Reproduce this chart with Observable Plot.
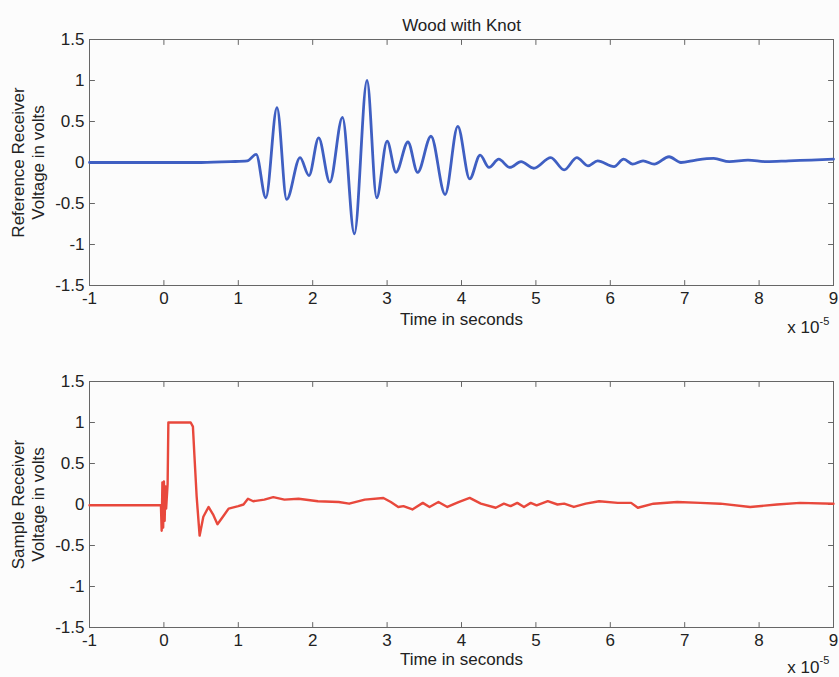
<!DOCTYPE html>
<html><head><meta charset="utf-8">
<script src="https://cdn.jsdelivr.net/npm/d3@7"></script>
<script src="https://cdn.jsdelivr.net/npm/@observablehq/plot@0.6"></script>
<style>
html,body{margin:0;padding:0;background:#fcfcfc;}
#chart{position:relative;width:839px;height:677px;}
#chart svg{display:block;}
</style></head><body><div id="chart"></div>
<script>
// ---- data (time in units of 1e-5 s, voltage in volts) ----
const xTicks = [-1, 0, 1, 2, 3, 4, 5, 6, 7, 8, 9];
const yTicks = [-1.5, -1, -0.5, 0, 0.5, 1, 1.5];

const refTime = [-1, -0.5, 0, 0.5, 0.9, 1.12, 1.24, 1.37, 1.52, 1.65, 1.83, 1.95, 2.08, 2.23, 2.40, 2.56, 2.73, 2.86, 3.00, 3.12, 3.28, 3.41, 3.59, 3.78, 3.95, 4.11, 4.25, 4.37, 4.50, 4.65, 4.80, 4.97, 5.20, 5.38, 5.55, 5.70, 5.83, 6.05, 6.18, 6.30, 6.44, 6.59, 6.79, 6.95, 7.15, 7.39, 7.6, 7.85, 8.1, 8.4, 8.7, 9.0];
const refVolt = [0, 0, 0, 0, 0.01, 0.02, 0.10, -0.43, 0.67, -0.45, 0.06, -0.16, 0.30, -0.24, 0.55, -0.87, 1.0, -0.43, 0.26, -0.12, 0.25, -0.12, 0.32, -0.39, 0.44, -0.20, 0.09, -0.06, 0.04, -0.06, 0.01, -0.07, 0.06, -0.09, 0.06, -0.04, 0.02, -0.05, 0.04, -0.02, 0.02, -0.02, 0.07, 0.0, 0.03, 0.05, 0.01, 0.03, 0.01, 0.02, 0.03, 0.04];

const sampleTime = [-1, -0.5, -0.2, -0.04, -0.03, -0.02, -0.01, 0.0, 0.01, 0.02, 0.03, 0.05, 0.06, 0.36, 0.39, 0.41, 0.44, 0.48, 0.53, 0.6, 0.66, 0.72, 0.8, 0.87, 1.0, 1.07, 1.13, 1.2, 1.35, 1.47, 1.62, 1.81, 2.07, 2.35, 2.49, 2.7, 2.95, 3.05, 3.15, 3.22, 3.34, 3.48, 3.57, 3.69, 3.81, 3.96, 4.11, 4.26, 4.46, 4.57, 4.66, 4.75, 4.84, 4.93, 5.01, 5.16, 5.29, 5.38, 5.51, 5.67, 5.85, 6.1, 6.28, 6.37, 6.58, 6.9, 7.21, 7.48, 7.88, 8.24, 8.55, 9.0];
const sampleVolt = [-0.01, -0.01, -0.01, -0.01, -0.32, 0.27, -0.28, 0.28, -0.2, 0.22, -0.05, 0.25, 1.0, 1.0, 0.95, 0.6, 0.1, -0.38, -0.15, -0.03, -0.12, -0.24, -0.14, -0.05, -0.02, 0.0, 0.07, 0.04, 0.06, 0.09, 0.06, 0.07, 0.04, 0.03, 0.01, 0.06, 0.08, 0.03, -0.03, -0.02, -0.06, 0.02, -0.03, 0.03, -0.03, 0.03, 0.08, 0.01, -0.04, 0.01, -0.02, 0.02, -0.03, 0.02, -0.01, 0.04, 0.0, 0.01, -0.03, 0.01, 0.04, 0.02, 0.02, -0.04, 0.01, 0.03, 0.02, 0.01, -0.03, 0.0, 0.02, 0.01];

const titleText = ["Wood with Knot"];
const xLabel = ["Time in seconds"];
const refLabel = ["Reference Receiver\nVoltage in volts"];
const sampleLabel = ["Sample Receiver\nVoltage in volts"];
const expBase = ["x 10"];
const expPow = ["-5"];

// ---- drawing ----
const FONT = "'Liberation Sans', Arial, Helvetica, sans-serif";
const tickShape = {draw(ctx, l) { ctx.moveTo(0, 0); ctx.lineTo(0, -l); }};

function panel({times, volts, color, width, curve, ylabel, title, height, marginTop, marginBottom, labelDy, expDy, powDy}) {
  const rows = times.map((t, i) => ({t, v: volts[i]}));
  const tk = {stroke: "#666", strokeWidth: 1, length: 5, anchor: "start", shape: tickShape};
  const marks = [
    Plot.frame({stroke: "#666", strokeWidth: 1}),
    Plot.vectorX(xTicks, {...tk, frameAnchor: "bottom", rotate: 0}),
    Plot.vectorX(xTicks, {...tk, frameAnchor: "top", rotate: 180}),
    Plot.vectorY(yTicks, {...tk, frameAnchor: "left", rotate: 90}),
    Plot.vectorY(yTicks, {...tk, frameAnchor: "right", rotate: -90}),
    Plot.axisX({ticks: xTicks, tickSize: 0, tickPadding: 6, tickFormat: d => String(d), label: null, fill: "#222"}),
    Plot.axisY({ticks: yTicks, tickSize: 0, tickPadding: 5, tickFormat: d => String(d), label: null, fill: "#222"}),
    Plot.line(rows, {x: "t", y: "v", stroke: color, strokeWidth: width, curve}),
    Plot.text(xLabel, {frameAnchor: "bottom", dy: labelDy, fill: "#222"}),
    Plot.text(ylabel, {frameAnchor: "left", textAnchor: "middle", rotate: -90, dx: -62, lineHeight: 1.15, fontSize: 17, fill: "#222"}),
    Plot.text(expBase, {frameAnchor: "bottom-right", textAnchor: "end", dx: -14, dy: expDy, fill: "#222"}),
    Plot.text(expPow, {frameAnchor: "bottom-right", textAnchor: "start", dx: -14, dy: powDy, fontSize: 11, fill: "#222"})
  ];
  if (title) marks.push(Plot.text(title, {frameAnchor: "top", dy: -21, fill: "#222"}));
  return Plot.plot({
    width: 839, height, marginLeft: 89, marginRight: 6, marginTop, marginBottom,
    style: {fontFamily: FONT, fontSize: "17px", background: "transparent", color: "#222", overflow: "visible"},
    x: {domain: [-1, 9]},
    y: {domain: [-1.5, 1.5]},
    marks
  });
}

const chart = document.getElementById("chart");
chart.append(panel({times: refTime, volts: refVolt, color: "#3f5fc2", width: 2.8, curve: "monotone-x",
  ylabel: refLabel, title: titleText, height: 340, marginTop: 39, marginBottom: 55, labelDy: 39, expDy: 47, powDy: 39}));
chart.append(panel({times: sampleTime, volts: sampleVolt, color: "#e8483c", width: 2.4, curve: "linear",
  ylabel: sampleLabel, title: null, height: 337, marginTop: 41, marginBottom: 50, labelDy: 37, expDy: 45, powDy: 36}));
</script></body></html>
